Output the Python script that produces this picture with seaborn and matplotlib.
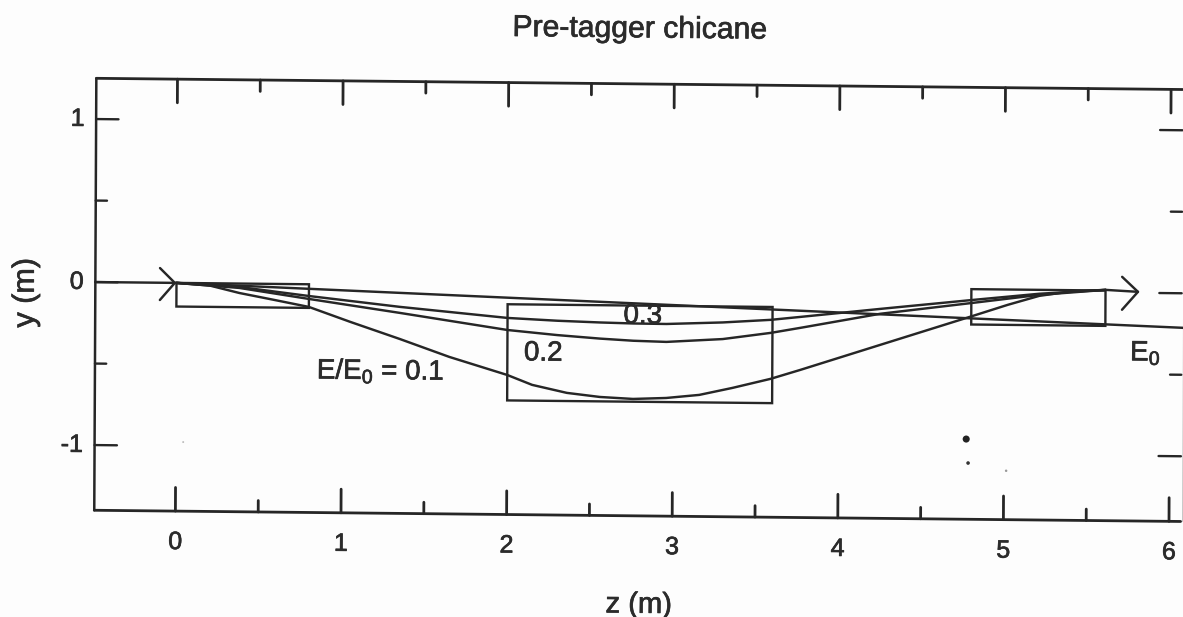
"""
plot.py - Pre-tagger chicane, slightly tilted scan look.
"""

import matplotlib
matplotlib.use('Agg')
import matplotlib.pyplot as plt
import matplotlib.patheffects as pe
from matplotlib.patches import Rectangle
from matplotlib.transforms import Affine2D
import seaborn as sns

# === DATA ===
z_01 = [0, 0.20, 0.38, 0.60, 0.80, 1.05, 1.35, 1.65, 2.00, 2.15, 2.36, 2.56, 2.76, 2.96, 3.16, 3.36, 3.59, 3.77, 4.25, 4.81, 5.02, 5.21, 5.40, 5.61]
y_01 = [0, -0.014, -0.058, -0.100, -0.139, -0.228, -0.330, -0.437, -0.544, -0.603, -0.650, -0.673, -0.683, -0.675, -0.654, -0.609, -0.551, -0.494, -0.336, -0.152, -0.082, -0.025, 0.004, 0.016]

z_02 = [0, 0.38, 0.80, 1.35, 2.00, 2.30, 2.56, 2.76, 2.96, 3.30, 3.59, 3.77, 4.25, 4.81, 5.21, 5.61]
y_02 = [0, -0.027, -0.090, -0.170, -0.268, -0.296, -0.315, -0.326, -0.331, -0.310, -0.269, -0.236, -0.145, -0.072, -0.019, 0.016]

z_03 = [0, 0.38, 0.80, 1.35, 2.00, 2.30, 2.56, 2.76, 2.96, 3.30, 3.59, 3.77, 4.25, 4.81, 5.21, 5.61]
y_03 = [0, -0.021, -0.072, -0.133, -0.194, -0.208, -0.216, -0.220, -0.221, -0.208, -0.189, -0.169, -0.115, -0.054, -0.012, 0.016]

z_e0 = [-0.49, 0, 6.08]
y_e0 = [0, 0, -0.212]

# magnets: z start, z end, y top, y bottom
magnets_z = [(0, 0.80), (2.00, 3.60), (4.80, 5.61)]
magnets_y = [(0, -0.145), (-0.11, -0.70), (0.012, -0.205)]

# arrow heads: wing, tip, wing
head_in_z = [-0.10, -0.01, -0.10]
head_in_y = [0.09, 0, -0.106]
head_out_z = [5.71, 5.806, 5.71]
head_out_y = [0.097, 0.006, -0.105]
out_z = [5.61, 5.806]
out_y = [0.016, 0.006]

z_major = [0, 1, 2, 3, 4, 5, 6]
z_minor = [0.5, 1.5, 2.5, 3.5, 4.5, 5.5]
y_major = [1, 0, -1]
y_minor = [0.5, -0.5]

Z_LEFT, Z_RIGHT = -0.49, 6.07
Y_TOP, Y_BOTTOM = 1.25, -1.40

# scan specks
speck_z = [4.773, 4.785, 5.015, 0.045]
speck_y = [-0.908, -1.055, -1.10, -0.976]
speck_size = [22, 6, 3, 2]
speck_col = ['#222222', '#333333', '#999999', '#bbbbbb']

# === STYLE ===
INK = '#262626'
LW = 1.75
sns.set_theme(style='white')
plt.rcParams['font.family'] = ['Liberation Sans', 'DejaVu Sans']
plt.rcParams['mathtext.default'] = 'regular'
PAPER = '#fdfdfd'

fig = plt.figure(figsize=(11.83, 6.17), dpi=100, facecolor=PAPER)
ax = fig.add_axes([0, 0, 1, 1])
ax.set_axis_off()

# page is turned about 0.6 degrees, a bit less on the vertical
TILT = -0.6
tilt = Affine2D().skew_deg(0.27, TILT) + ax.transData


def line(z, y, lw=LW, color=INK):
    sns.lineplot(x=z, y=y, ax=ax, color=color, lw=lw, sort=False, estimator=None,
                 errorbar=None, transform=tilt, clip_on=False)


# === FRAME AND TICKS ===
line([Z_LEFT, Z_RIGHT], [Y_TOP, Y_TOP], lw=2.0)
line([Z_LEFT, Z_RIGHT], [Y_BOTTOM, Y_BOTTOM], lw=2.0)
line([Z_LEFT, Z_LEFT], [Y_BOTTOM, Y_TOP], lw=1.8)
line([Z_RIGHT + 0.012, Z_RIGHT + 0.012], [Y_BOTTOM, Y_TOP], lw=0.8, color='#c4c4c4')

for ticks, size in [(z_major, 0.145), (z_minor, 0.07)]:
    for t in ticks:
        line([t, t], [Y_TOP, Y_TOP - size], lw=2.0)
        line([t, t], [Y_BOTTOM, Y_BOTTOM + size], lw=2.0)
for ticks, size in [(y_major, 0.135), (y_minor, 0.068)]:
    for t in ticks:
        line([Z_LEFT, Z_LEFT + size], [t, t], lw=1.7)
        line([Z_RIGHT, Z_RIGHT - size], [t, t], lw=1.7)

# === CURVES ===
line(z_e0, y_e0)
line(z_01, y_01)
line(z_02, y_02)
line(z_03, y_03)
line(head_in_z, head_in_y)
line(out_z, out_y)
line(head_out_z, head_out_y)

for (z0, z1), (y0, y1) in zip(magnets_z, magnets_y):
    ax.add_patch(Rectangle((z0, y1), z1 - z0, y0 - y1, fill=False, ec=INK, lw=1.7, transform=tilt))

sns.scatterplot(x=speck_z, y=speck_y, ax=ax, c=speck_col, linewidth=0, transform=tilt,
                size=speck_size, sizes=(2, 26), legend=False)

# === TEXT ===
# thin stroke, the scan makes all the type look a bit heavier
heavy = [pe.withStroke(linewidth=0.5, foreground='#2b2b2b')]
TXT = dict(color='#2b2b2b', transform=tilt, rotation=TILT, rotation_mode='anchor', path_effects=heavy)
for t in z_major:
    ax.text(t, -1.59, str(t), fontsize=18, ha='center', va='center', **TXT)
for t in y_major:
    ax.text(-0.56, t, str(t), fontsize=18, ha='right', va='center', **TXT)

ax.text(2.79, 1.585, 'Pre-tagger chicane', fontsize=21.7, ha='center', va='center', **TXT)
ax.text(2.80, -1.945, 'z (m)', fontsize=21, ha='center', va='center', **TXT)
ax.text(-0.91, -0.07, 'y (m)', fontsize=22, ha='center', va='center', color='#2b2b2b', rotation=90,
        transform=tilt, path_effects=heavy)

ax.text(0.85, -0.53, r'E/E$_0$ = 0.1', fontsize=20, ha='left', va='center', **TXT)
ax.text(2.10, -0.41, '0.2', fontsize=20, ha='left', va='center', **TXT)
ax.text(2.70, -0.175, '0.3', fontsize=20, ha='left', va='center', **TXT)
ax.text(5.76, -0.37, r'E$_0$', fontsize=20, ha='left', va='center', **TXT)

# pixel scale of the reference: 165.6 px per m in z, 163 px per m in y
ax.set_xlim(-176.5 / 165.6, (1183 - 176.5) / 165.6)
ax.set_ylim((282.9 - 617) / 163, 282.9 / 163)

fig.savefig('out.png', dpi=100, facecolor=PAPER)
